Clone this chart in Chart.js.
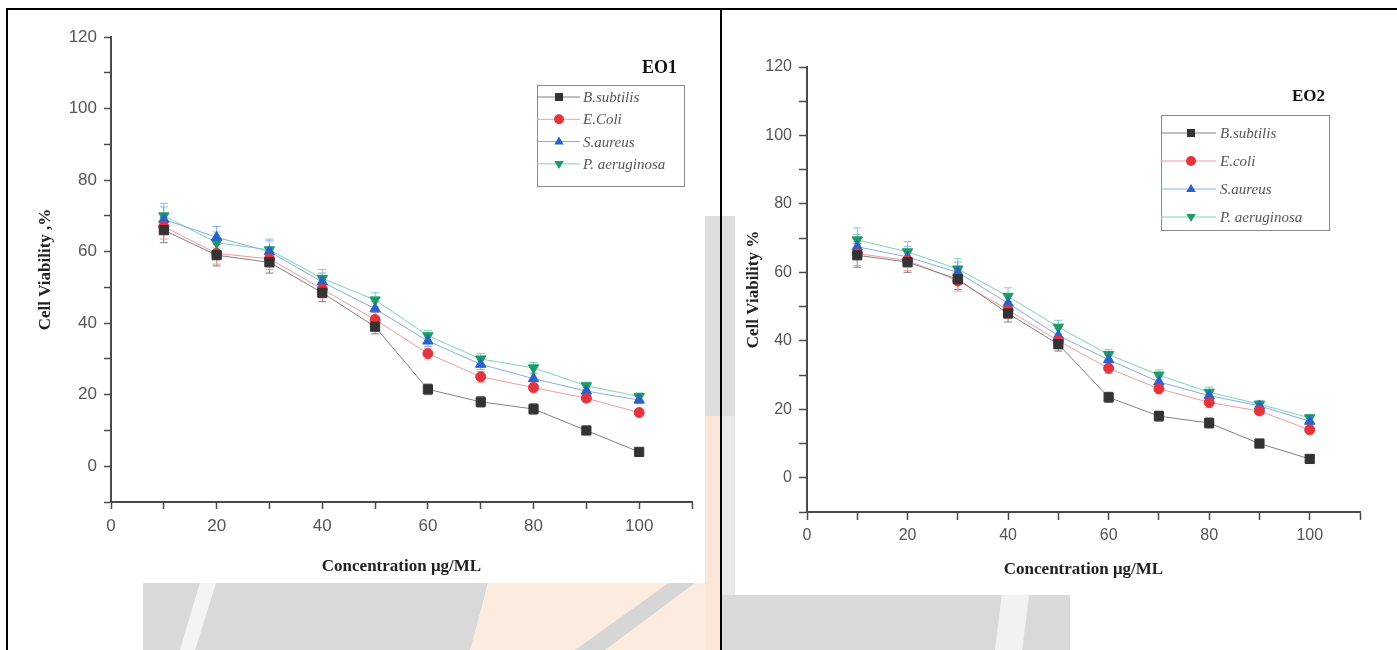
<!DOCTYPE html>
<html>
<head>
<meta charset="utf-8">
<script src="https://cdn.jsdelivr.net/npm/chart.js@4.4.0/dist/chart.umd.min.js"></script>
<style>
  html, body { margin: 0; padding: 0; background: #fff; }
  body { width: 1397px; height: 650px; position: relative; overflow: hidden; }
  .wm { position: absolute; }
  .panel { position: absolute; background: #fff; }
  .rule { position: absolute; background: #000; }
</style>
</head>
<body>
<!-- faint watermark behind the figures -->
<div class="wm" style="left:143px;top:583px;width:345px;height:67px;background:#d9d9d9;clip-path:polygon(0 0,100% 0,95% 100%,0 100%)"></div>
<div class="wm" style="left:180px;top:583px;width:36px;height:67px;background:#f4f4f4;clip-path:polygon(55% 0,100% 0,42% 100%,0 100%)"></div>
<div class="wm" style="left:470px;top:583px;width:235px;height:67px;background:#fcebdf;clip-path:polygon(8% 0,100% 0,100% 100%,0 100%)"></div>
<div class="wm" style="left:575px;top:583px;width:120px;height:67px;background:#d6d6d6;clip-path:polygon(78% 0,100% 0,25% 100%,0 100%)"></div>
<div class="wm" style="left:705px;top:216px;width:30px;height:200px;background:#dcdcdc"></div>
<div class="wm" style="left:705px;top:416px;width:16px;height:234px;background:#fbe6d7"></div>
<div class="wm" style="left:721px;top:416px;width:14px;height:180px;background:#e8e8e8"></div>
<div class="wm" style="left:720px;top:595px;width:350px;height:55px;background:#d9d9d9"></div>
<div class="wm" style="left:995px;top:595px;width:34px;height:55px;background:#f2f2f2;clip-path:polygon(20% 0,100% 0,80% 100%,0 100%)"></div>

<div class="panel" style="left:10px;top:10px;width:695px;height:573px"><canvas id="eo1"></canvas></div>
<div class="panel" style="left:735px;top:10px;width:662px;height:585px"><canvas id="eo2"></canvas></div>

<!-- table rules -->
<div class="rule" style="left:6px;top:8px;width:1391px;height:2px"></div>
<div class="rule" style="left:6px;top:8px;width:2px;height:642px"></div>
<div class="rule" style="left:720px;top:8px;width:2px;height:642px"></div>

<script>
// concentration (µg/mL)
const concentrations = [10, 20, 30, 40, 50, 60, 70, 80, 90, 100]

// EO1 cell viability %
const eo1_b_subtilis   = [66, 59, 57, 48.5, 39, 21.5, 18, 16, 10, 4]
const eo1_e_coli       = [67, 59.5, 58, 49.5, 41, 31.5, 25, 22, 19, 15]
const eo1_s_aureus     = [69, 64, 60, 51.5, 44, 35, 28.5, 24.5, 21, 18.5]
const eo1_p_aeruginosa = [70, 62.5, 60.5, 52.5, 46.5, 36.5, 30, 27.5, 22.5, 19.5]
const eo1_err          = [3.5, 3, 3, 2.5, 2, 1.5, 1.5, 1.5, 1, 1]

// EO2 cell viability %
const eo2_b_subtilis   = [65, 63, 58, 48, 39, 23.5, 18, 16, 10, 5.5]
const eo2_e_coli       = [65.5, 63.5, 57.5, 49, 40, 32, 26, 22, 19.5, 14]
const eo2_s_aureus     = [67.5, 64.5, 60, 51, 41.5, 34.5, 28, 24, 21, 16.5]
const eo2_p_aeruginosa = [69.5, 66, 61, 53, 44, 36, 30, 25, 21.5, 17.5]
const eo2_err          = [3.5, 3, 3, 2.5, 2, 1.5, 1.5, 1.5, 1, 1]

const eo1_names = ["B.subtilis", "E.Coli", "S.aureus", "P. aeruginosa"]
const eo2_names = ["B.subtilis", "E.coli", "S.aureus", "P. aeruginosa"]

const yTicks = [0, 20, 40, 60, 80, 100, 120]
const xTicks = [0, 20, 40, 60, 80, 100]

// marker / line look per series
const looks = [
    { marker: "#333333", line: "#808080", style: "rect", rot: 0, r: 6.5 },
    { marker: "#e3333c", line: "#f29a9e", style: "circle", rot: 0, r: 5 },
    { marker: "#2a62c9", line: "#88aaea", style: "triangle", rot: 0, r: 6 },
    { marker: "#1e9b63", line: "#78d4bc", style: "triangle", rot: 180, r: 6 }
]

function makeSets(names, series, err) {
    return series.map((vals, i) => ({
        label: names[i],
        data: concentrations.map((c, j) => ({ x: c, y: vals[j] })),
        errors: err,
        borderColor: looks[i].line,
        backgroundColor: looks[i].marker,
        pointBackgroundColor: looks[i].marker,
        pointBorderColor: looks[i].marker,
        pointBorderWidth: 1,
        pointStyle: looks[i].style,
        pointRotation: looks[i].rot,
        pointRadius: looks[i].r,
        borderWidth: 1,
        tension: 0
    }))
}

// vertical error bars with small caps
const errorBars = {
    id: "errorBars",
    beforeDatasetsDraw(chart) {
        const ctx = chart.ctx
        const x = chart.scales.x
        const y = chart.scales.y
        chart.data.datasets.forEach(ds => {
            if (!ds.errors) return
            ctx.save()
            ctx.strokeStyle = ds.borderColor
            ctx.lineWidth = 1
            ds.data.forEach((p, j) => {
                const e = ds.errors[j]
                const px = x.getPixelForValue(p.x)
                const top = y.getPixelForValue(p.y + e)
                const bot = y.getPixelForValue(p.y - e)
                ctx.beginPath()
                ctx.moveTo(px, top); ctx.lineTo(px, bot)
                ctx.moveTo(px - 4, top); ctx.lineTo(px + 4, top)
                ctx.moveTo(px - 4, bot); ctx.lineTo(px + 4, bot)
                ctx.stroke()
            })
            ctx.restore()
        })
    }
}

function drawMarker(ctx, style, rot, cx, cy, r, color) {
    ctx.save()
    ctx.fillStyle = color
    ctx.translate(cx, cy)
    ctx.rotate(rot * Math.PI / 180)
    ctx.beginPath()
    if (style === "rect") {
        ctx.rect(-r * 0.8, -r * 0.8, r * 1.6, r * 1.6)
    } else if (style === "circle") {
        ctx.arc(0, 0, r, 0, Math.PI * 2)
    } else {
        ctx.moveTo(0, -r)
        ctx.lineTo(r * 0.95, r * 0.6)
        ctx.lineTo(-r * 0.95, r * 0.6)
        ctx.closePath()
    }
    ctx.fill()
    ctx.restore()
}

// Origin style legend box plus the panel tag
const boxLegend = {
    id: "boxLegend",
    afterDraw(chart, args, o) {
        const ctx = chart.ctx
        const area = chart.chartArea
        const left = area.right - o.right - o.width
        const top = area.top + o.top
        ctx.save()
        ctx.font = o.tagFont
        ctx.fillStyle = "#111"
        ctx.textAlign = "right"
        ctx.textBaseline = "middle"
        ctx.fillText(o.tag, area.right - o.tagRight, area.top + o.tagTop)

        ctx.strokeStyle = "#8a8a8a"
        ctx.lineWidth = 1
        ctx.strokeRect(left + 0.5, top + 0.5, o.width, o.height)

        ctx.font = o.font
        ctx.textAlign = "left"
        chart.data.datasets.forEach((ds, i) => {
            const ry = top + o.first + i * o.gap
            ctx.strokeStyle = ds.borderColor
            ctx.beginPath()
            ctx.moveTo(left, ry); ctx.lineTo(left + o.lineLen, ry)
            ctx.stroke()
            drawMarker(ctx, ds.pointStyle, ds.pointRotation, left + o.markerX, ry, 5, ds.pointBackgroundColor)
            ctx.fillStyle = "#555"
            ctx.fillText(ds.label, left + o.textX, ry + 1)
        })
        ctx.restore()
    }
}

function makeChart(id, names, series, err, s) {
    const axisGrid = { drawOnChartArea: false, drawTicks: true, tickLength: s.tickLen, tickWidth: 1.5, tickColor: "#4a4a4a" }
    const axisBorder = { display: true, color: "#4a4a4a", width: 2 }
    return new Chart(document.getElementById(id), {
        type: "line",
        data: { datasets: makeSets(names, series, err) },
        plugins: [errorBars, boxLegend],
        options: {
            responsive: true,
            maintainAspectRatio: false,
            animation: false,
            events: [],
            layout: { padding: { left: 0, top: s.padTop, right: s.padRight, bottom: 0 } },
            plugins: {
                legend: { display: false },
                tooltip: { enabled: false },
                boxLegend: s.legend
            },
            scales: {
                x: {
                    type: "linear",
                    min: 0, max: 110,
                    grid: axisGrid,
                    border: axisBorder,
                    ticks: {
                        stepSize: 10,
                        autoSkip: false,
                        maxRotation: 0,
                        padding: s.xTickPad,
                        color: "#555",
                        font: { family: "'Liberation Sans', Arial, sans-serif", size: s.tickSize },
                        callback: v => xTicks.includes(v) ? v : ""
                    },
                    title: {
                        display: true,
                        text: "Concentration μg/ML",
                        color: "#222",
                        padding: { top: 0, bottom: s.xTitlePad },
                        font: { family: "'Liberation Serif', 'Times New Roman', serif", size: s.xTitleSize, weight: "bold" }
                    },
                    afterFit: sc => { sc.height = s.xHeight }
                },
                y: {
                    type: "linear",
                    min: -10, max: 120,
                    grid: axisGrid,
                    border: axisBorder,
                    ticks: {
                        stepSize: 10,
                        autoSkip: false,
                        padding: s.yTickPad,
                        color: "#555",
                        font: { family: "'Liberation Sans', Arial, sans-serif", size: s.tickSize },
                        callback: v => yTicks.includes(v) ? v : ""
                    },
                    title: {
                        display: true,
                        text: s.yTitle,
                        color: "#222",
                        padding: { top: s.yTitlePad, bottom: 0 },
                        font: { family: "'Liberation Serif', 'Times New Roman', serif", size: s.yTitleSize, weight: "bold" }
                    },
                    afterFit: sc => { sc.width = s.yWidth }
                }
            }
        }
    })
}

makeChart("eo1", eo1_names, [eo1_b_subtilis, eo1_e_coli, eo1_s_aureus, eo1_p_aeruginosa], eo1_err, {
    padTop: 27, padRight: 13, yWidth: 101, xHeight: 81,
    tickLen: 7, tickSize: 17, xTickPad: 7, yTickPad: 7,
    xTitlePad: 6, yTitlePad: 25, yTitle: "Cell Viability ,%",
    xTitleSize: 17, yTitleSize: 17,
    legend: {
        tag: "EO1", tagFont: "bold 18px 'Liberation Serif', serif", tagRight: 15, tagTop: 31,
        right: 8, top: 48, width: 147, height: 101,
        first: 12, gap: 22.3, lineLen: 43, markerX: 22, textX: 46,
        font: "italic 15px 'Liberation Serif', serif"
    }
})

makeChart("eo2", eo2_names, [eo2_b_subtilis, eo2_e_coli, eo2_s_aureus, eo2_p_aeruginosa], eo2_err, {
    padTop: 57, padRight: 37, yWidth: 72, xHeight: 83,
    tickLen: 8, tickSize: 16, xTickPad: 6, yTickPad: 7,
    xTitlePad: 15, yTitlePad: 8, yTitle: "Cell Viability %",
    xTitleSize: 17, yTitleSize: 17,
    legend: {
        tag: "EO2", tagFont: "bold 17px 'Liberation Serif', serif", tagRight: 35, tagTop: 30,
        right: 31, top: 48, width: 168, height: 115,
        first: 18, gap: 28, lineLen: 55, markerX: 30, textX: 59,
        font: "italic 15px 'Liberation Serif', serif"
    }
})
</script>
</body>
</html>
